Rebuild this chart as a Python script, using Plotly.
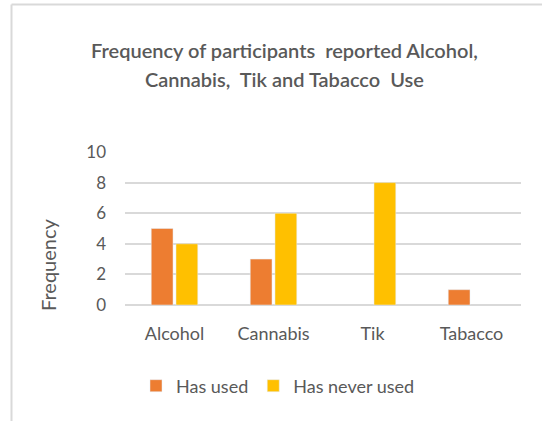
import plotly.graph_objects as go

categories = ["Alcohol", "Cannabis", "Tik", "Tabacco"]
has_used = [5, 3, None, 1]
never_used = [4, 6, 8, None]
y_ticks = [0, 2, 4, 6, 8, 10]

TEXT = "#595959"
FONT = "Lato"

fig = go.Figure()
fig.add_trace(go.Bar(x=categories, y=has_used, name="Has used",
                     marker=dict(color="#ED7D31")))
fig.add_trace(go.Bar(x=categories, y=never_used, name="Has never used",
                     marker=dict(color="#FFC000")))

W, H = 542, 421
L, R, T, B = 125, 21, 152, 116
pw, ph = W - L - R, H - T - B


def px_x(x):
    return (x - L) / pw


def px_y(y):
    return (H - B - y) / ph


fig.update_layout(
    width=W, height=H,
    margin=dict(l=L, r=R, t=T, b=B, pad=0),
    paper_bgcolor="white", plot_bgcolor="white",
    barmode="group", bargap=0.5, bargroupgap=0.12,
    font=dict(family=FONT, color=TEXT, size=17),
    showlegend=True,
    legend=dict(orientation="h", x=px_x(278), xanchor="center",
                y=px_y(386), yanchor="middle",
                font=dict(size=18, color=TEXT), itemwidth=30,
                traceorder="normal"),
    xaxis=dict(showgrid=False, showline=False, ticks="",
               ticklabelstandoff=16,
               tickfont=dict(size=18, color=TEXT)),
    yaxis=dict(range=[0, 10], tickvals=y_ticks, showgrid=True,
               gridcolor="#D9D9D9", gridwidth=1.5, zeroline=True,
               zerolinecolor="#D9D9D9", zerolinewidth=1.5,
               showline=False, ticks="", ticklabelstandoff=18,
               tickfont=dict(size=17, color=TEXT)),
    annotations=[
        dict(text="Frequency of participants  reported Alcohol,",
             xref="paper", yref="paper", x=px_x(284), y=px_y(50),
             xanchor="center", yanchor="middle", showarrow=False,
             font=dict(size=20, color=TEXT, family=FONT, weight=600)),
        dict(text="Cannabis,  Tik and Tabacco  Use",
             xref="paper", yref="paper", x=px_x(284), y=px_y(79),
             xanchor="center", yanchor="middle", showarrow=False,
             font=dict(size=20, color=TEXT, family=FONT, weight=600)),
        dict(text="Frequency", textangle=-90,
             xref="paper", yref="paper", x=px_x(48), y=px_y(265),
             xanchor="center", yanchor="middle", showarrow=False,
             font=dict(size=20, color=TEXT, family=FONT)),
    ],
    shapes=[
        dict(type="line", xref="paper", yref="paper",
             x0=px_x(11.5), x1=px_x(11.5), y0=px_y(4.5), y1=px_y(421),
             line=dict(color="#D9D9D9", width=2)),
        dict(type="line", xref="paper", yref="paper",
             x0=px_x(11.5), x1=px_x(542), y0=px_y(4.5), y1=px_y(4.5),
             line=dict(color="#D9D9D9", width=2)),
    ],
)

fig.write_html("out.html")
